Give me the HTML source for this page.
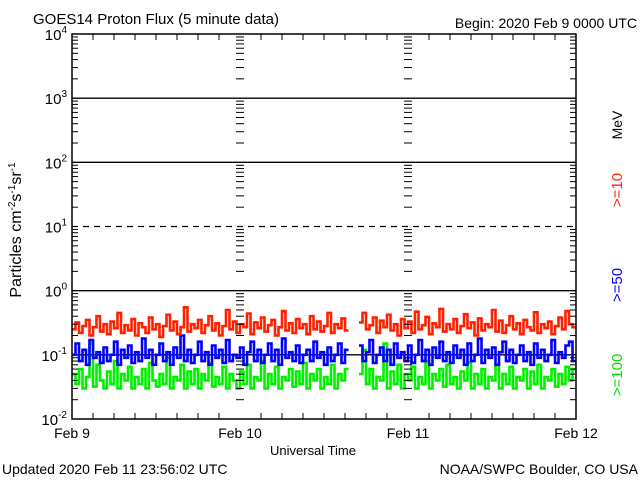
<!DOCTYPE html>
<html><head><meta charset="utf-8"><style>
body{margin:0;background:#fff;width:640px;height:480px;overflow:hidden}
svg{display:block;font-family:"Liberation Sans",sans-serif}
</style></head><body>
<svg id="chart" width="640" height="480">
<text x="33" y="24" font-size="15">GOES14 Proton Flux (5 minute data)</text>
<text x="637" y="28" font-size="14" text-anchor="end">Begin: 2020 Feb 9 0000 UTC</text>
<text x="313" y="455" font-size="13" text-anchor="middle">Universal Time</text>
<text x="2" y="474" font-size="14">Updated 2020 Feb 11 23:56:02 UTC</text>
<text x="638" y="474" font-size="14" text-anchor="end">NOAA/SWPC Boulder, CO USA</text>
<text transform="translate(21,230) rotate(-90)" font-size="16" text-anchor="middle">Particles cm<tspan dy="-6" font-size="10">-2</tspan><tspan dy="6">s</tspan><tspan dy="-6" font-size="10">-1</tspan><tspan dy="6">sr</tspan><tspan dy="-6" font-size="10">-1</tspan></text>
<text transform="translate(622,125) rotate(-90)" font-size="14" text-anchor="middle">MeV</text>
<text transform="translate(622,190) rotate(-90)" font-size="15" fill="#ff2000" text-anchor="middle">&gt;=10</text>
<text transform="translate(622,285) rotate(-90)" font-size="15" fill="#0000ff" text-anchor="middle">&gt;=50</text>
<text transform="translate(622,375) rotate(-90)" font-size="15" fill="#00e000" text-anchor="middle">&gt;=100</text>
<g id="grid"></g><g id="series"></g><g id="axes"></g>
</svg>
<script>
const dayLabels=["Feb 9","Feb 10","Feb 11","Feb 12"];
const decades=[-2,-1,0,1,2,3,4];
const red=[0.25,0.32,0.22,0.28,0.35,0.2,0.27,0.4,0.23,0.3,0.21,0.33,0.26,0.45,0.22,0.29,0.24,0.36,0.2,0.31,0.27,0.22,0.38,0.25,0.3,0.19,0.28,0.42,0.24,0.33,0.21,0.27,0.55,0.23,0.3,0.26,0.35,0.22,0.29,0.4,0.24,0.31,0.2,0.28,0.5,0.25,0.33,0.22,
0.3,0.27,0.44,0.21,0.32,0.26,0.38,0.23,0.29,0.35,0.2,0.27,0.48,0.24,0.31,0.22,0.36,0.26,0.3,0.21,0.4,0.25,0.33,0.23,0.28,0.45,0.22,0.3,0.26,0.37,0.24,null,null,null,0.32,0.45,0.25,0.29,0.38,0.22,0.34,0.27,0.42,0.24,0.3,0.2,0.36,0.26,
0.33,0.22,0.47,0.25,0.29,0.39,0.21,0.31,0.27,0.52,0.23,0.3,0.25,0.36,0.22,0.28,0.43,0.26,0.32,0.2,0.37,0.24,0.3,0.27,0.5,0.23,0.34,0.22,0.29,0.4,0.25,0.31,0.21,0.35,0.27,0.24,0.46,0.22,0.3,0.26,0.33,0.21,0.28,0.38,0.25,0.48,0.3,0.27];
const blue=[0.1,0.15,0.08,0.12,0.07,0.17,0.09,0.11,0.075,0.13,0.08,0.1,0.16,0.07,0.12,0.09,0.14,0.075,0.11,0.08,0.18,0.09,0.12,0.07,0.1,0.15,0.08,0.11,0.07,0.13,0.09,0.2,0.08,0.12,0.075,0.1,0.16,0.08,0.11,0.07,0.14,0.09,0.12,0.075,0.17,0.08,0.1,0.09,
0.13,0.07,0.11,0.16,0.08,0.12,0.075,0.1,0.15,0.08,0.12,0.07,0.18,0.09,0.11,0.08,0.14,0.075,0.1,0.12,0.08,0.16,0.09,0.11,0.07,0.13,0.08,0.1,0.15,0.075,0.12,null,null,null,0.14,0.08,0.11,0.17,0.075,0.1,0.13,0.08,0.12,0.07,0.15,0.09,0.11,0.08,
0.14,0.075,0.1,0.17,0.08,0.12,0.07,0.13,0.09,0.16,0.08,0.11,0.075,0.14,0.09,0.12,0.07,0.15,0.08,0.1,0.18,0.075,0.12,0.09,0.13,0.07,0.11,0.16,0.08,0.12,0.075,0.1,0.14,0.08,0.11,0.07,0.15,0.09,0.12,0.08,0.1,0.17,0.075,0.11,0.09,0.14,0.16,0.08];
const green=[0.05,0.035,0.06,0.03,0.045,0.15,0.032,0.07,0.04,0.03,0.055,0.035,0.08,0.03,0.05,0.04,0.065,0.03,0.045,0.035,0.06,0.03,0.075,0.04,0.032,0.05,0.035,0.09,0.03,0.045,0.04,0.07,0.03,0.055,0.035,0.06,0.03,0.05,0.04,0.075,0.032,0.045,0.035,0.065,0.03,0.05,0.04,0.03,
0.055,0.035,0.07,0.03,0.045,0.04,0.08,0.03,0.05,0.035,0.065,0.03,0.045,0.04,0.06,0.032,0.055,0.035,0.075,0.03,0.05,0.04,0.06,0.03,0.045,0.035,0.07,0.03,0.05,0.04,0.06,null,null,null,0.05,0.12,0.035,0.06,0.03,0.045,0.04,0.15,0.03,0.055,0.035,0.07,0.03,0.05,
0.04,0.065,0.03,0.045,0.035,0.08,0.03,0.05,0.04,0.06,0.032,0.07,0.035,0.045,0.03,0.055,0.04,0.075,0.03,0.05,0.035,0.06,0.03,0.045,0.04,0.07,0.03,0.05,0.035,0.065,0.03,0.045,0.04,0.06,0.03,0.055,0.035,0.07,0.03,0.045,0.04,0.06,0.032,0.05,0.035,0.065,0.04,0.06];
const X0=72,X1=576,Y0=34,Y1=419,NS="http://www.w3.org/2000/svg";
const xS=h=>X0+(X1-X0)*h/72;
const yS=v=>Y1-(Math.log10(v)+2)*(Y1-Y0)/6;
function mk(par,tag,at){const e=document.createElementNS(NS,tag);for(const k in at)e.setAttribute(k,at[k]);document.getElementById(par).appendChild(e);return e;}
[3,2,0,-1].forEach(d=>{const l=mk('grid','line',{x1:X0,x2:X1,y1:yS(10**d),y2:yS(10**d),stroke:'#000','stroke-width':1.3});

});
{const l=mk('grid','line',{x1:X0,x2:X1,y1:yS(10),y2:yS(10),stroke:'#000','stroke-width':1.3,'stroke-dasharray':'6,5'});

}
// series drawn as step lines
[[red,'#ff2000','series-ge10'],[blue,'#0000ff','series-ge50'],[green,'#00f000','series-ge100']].reverse().forEach(([arr,c,n])=>{
 let segs=[],cur=[];const step=72/arr.length;
 arr.forEach((v,i)=>{if(v==null){if(cur.length)segs.push(cur);cur=[];}else{const y=yS(v).toFixed(1);cur.push(xS(i*step).toFixed(1)+','+y);cur.push(xS((i+1)*step).toFixed(1)+','+y);}});
 if(cur.length)segs.push(cur);
 segs.forEach(s=>{const p=mk('series','polyline',{points:s.join(' '),fill:'none',stroke:c,'stroke-width':2.6,'stroke-linejoin':'miter'});
 
 });
});
{const r=mk('axes','rect',{x:X0,y:Y0,width:X1-X0,height:Y1-Y0,fill:'none',stroke:'#000','stroke-width':1.5});

}
decades.forEach(d=>{
 const y=yS(10**d);
 const t=mk('axes','text',{x:X0-5,y:y+6,'font-size':15,'text-anchor':'end'});
 
 
 t.innerHTML='10<tspan dy="-7" font-size="10">'+d+'</tspan>';
 if(d<4)for(let m=2;m<=9;m++){const yy=yS(m*10**d);
  [[X0,X0+6],[X1-6,X1],[xS(24)-4,xS(24)+4],[xS(48)-4,xS(48)+4]].forEach(([a,b])=>mk('axes','line',{x1:a,x2:b,y1:yy,y2:yy,stroke:'#000','stroke-width':1}));}
});
dayLabels.forEach((lab,i)=>{const x=xS(i*24);
 const t=mk('axes','text',{x:x,y:438,'font-size':14,'text-anchor':'middle'});
 
 
 t.textContent=lab;});
for(let h=3;h<72;h+=3){const x=xS(h);const L=h%24==0?0:6;
 mk('axes','line',{x1:x,x2:x,y1:Y1,y2:Y1-L,stroke:'#000','stroke-width':1});
 mk('axes','line',{x1:x,x2:x,y1:Y0,y2:Y0+L,stroke:'#000','stroke-width':1});}
</script>
</body></html>
